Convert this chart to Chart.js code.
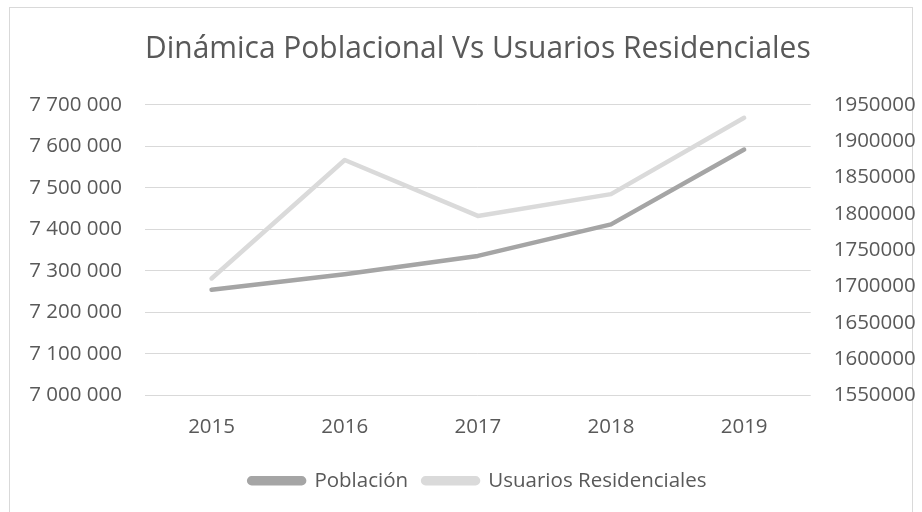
<!DOCTYPE html>
<html>
<head>
<meta charset="utf-8">
<script src="https://cdn.jsdelivr.net/npm/chart.js@4.4.1/dist/chart.umd.min.js"></script>
<style>
  html, body { margin: 0; padding: 0; background: #ffffff; }
  canvas { display: block; }
</style>
</head>
<body>
<canvas id="myChart" width="922" height="512"></canvas>
<script>
const years = ['2015', '2016', '2017', '2018', '2019'];
const poblacion = [7254500, 7292000, 7336000, 7412000, 7592000];
const usuarios = [1711000, 1874000, 1797000, 1827000, 1932000];

const textColor = '#595959';
const fontFamily = "'Open Sans', 'Noto Sans', sans-serif";

// thousands with a space, like the Excel format
function spaced(value) {
    return String(value).replace(/\B(?=(\d{3})+(?!\d))/g, ' ');
}

const framePlugin = {
    id: 'frame',
    beforeDraw(chart) {
        const ctx = chart.ctx;
        ctx.save();
        ctx.fillStyle = '#ffffff';
        ctx.fillRect(0, 0, chart.width, chart.height);
        ctx.strokeStyle = '#d9d9d9';
        ctx.lineWidth = 1;
        ctx.strokeRect(9.5, 7.5, 903, 520);
        ctx.restore();
    }
};

const config = {
    type: 'line',
    data: {
        labels: years,
        datasets: [{
            label: 'Población',
            data: poblacion,
            yAxisID: 'y',
            borderColor: '#a5a5a5',
            backgroundColor: '#a5a5a5',
        }, {
            label: 'Usuarios Residenciales',
            data: usuarios,
            yAxisID: 'y1',
            borderColor: '#dadada',
            backgroundColor: '#dadada',
        }]
    },
    options: {
        responsive: false,
        animation: false,
        devicePixelRatio: 1,
        elements: {
            point: { radius: 0, hoverRadius: 0 },
            line: {
                borderWidth: 4.5,
                borderCapStyle: 'round',
                borderJoinStyle: 'round',
                tension: 0,
                fill: false
            }
        },
        layout: {
            padding: { left: 0, right: 0, top: 0, bottom: 11 }
        },
        scales: {
            x: {
                offset: true,
                grid: { display: false, drawTicks: false },
                border: { display: false },
                ticks: {
                    color: textColor,
                    padding: 19,
                    font: { family: fontFamily, size: 20.5 }
                },
                afterFit(scale) { scale.height = 60; }
            },
            y: {
                position: 'left',
                min: 7000000,
                max: 7700000,
                grid: { color: '#d9d9d9', lineWidth: 1, drawTicks: false },
                border: { display: false },
                ticks: {
                    stepSize: 100000,
                    color: textColor,
                    padding: 23,
                    font: { family: fontFamily, size: 20.5 },
                    callback: function(value) {
                        return spaced(value);
                    }
                },
                afterFit(scale) { scale.width = 145; }
            },
            y1: {
                position: 'right',
                min: 1550000,
                max: 1950000,
                grid: { display: false, drawTicks: false },
                border: { display: false },
                ticks: {
                    stepSize: 50000,
                    color: textColor,
                    padding: 23,
                    font: { family: fontFamily, size: 20.5 },
                    callback: function(value) {
                        return String(value);
                    }
                },
                afterFit(scale) { scale.width = 111.3; }
            }
        },
        plugins: {
            title: {
                display: true,
                fullSize: false,
                text: 'Dinámica Poblacional Vs Usuarios Residenciales',
                color: textColor,
                font: { family: fontFamily, size: 31, weight: 'normal', lineHeight: 1.2 },
                padding: { top: 31, bottom: 36.5 }
            },
            legend: {
                position: 'bottom',
                fullSize: false,
                labels: {
                    color: textColor,
                    boxWidth: 55,
                    boxHeight: 5,
                    useBorderRadius: true,
                    borderRadius: 2.5,
                    padding: 15,
                    font: { family: fontFamily, size: 20.5 }
                }
            },
            tooltip: { enabled: false }
        }
    },
    plugins: [framePlugin]
};

const chart = new Chart(document.getElementById('myChart'), config);
</script>
</body>
</html>
